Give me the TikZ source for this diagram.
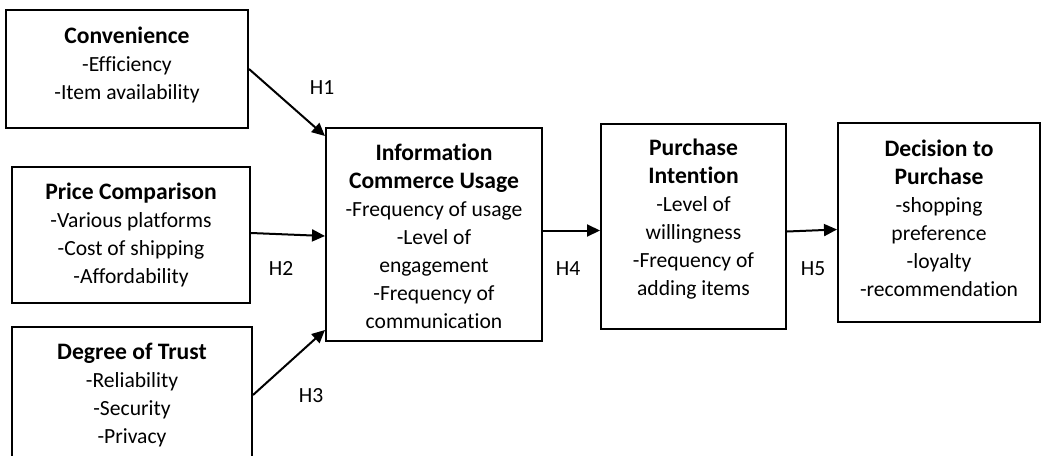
\documentclass[tikz,border=0pt]{standalone}
\usepackage{fontspec}
\setmainfont{Carlito}[Ligatures=NoCommon]
\usetikzlibrary{arrows.meta,calc}
\begin{document}
\begin{tikzpicture}[x=1pt,y=-1pt,
  box/.style={draw=black,line width=2pt,rectangle,inner sep=0pt},
  txt/.style={align=center,inner sep=0pt,font=\fontsize{21.6}{28}\selectfont},
  hlab/.style={inner sep=0pt,font=\fontsize{21.6}{26}\selectfont},
  arr/.style={line width=2pt,-{Triangle[length=13pt,width=12pt]}}]
\newcommand{\ttl}[1]{{\fontsize{23.6}{28}\selectfont\bfseries #1}}
\clip (0,0) rectangle (1043,455);
\fill[white] (0,0) rectangle (1043,455);
% boxes
\node[box,minimum width=242pt,minimum height=118pt] (conv) at (127,69) {};
\node[box,minimum width=238pt,minimum height=136pt] (price) at (131,235) {};
\node[box,minimum width=240pt,minimum height=136pt] (trust) at (132,395) {};
\node[box,minimum width=216pt,minimum height=213pt] (info) at (434,234.5) {};
\node[box,minimum width=185pt,minimum height=205pt] (pi) at (693.5,226.5) {};
\node[box,minimum width=202pt,minimum height=199pt] (dec) at (939,222.5) {};
% texts
\node[txt] (convt) at (127,65) {\ttl{Convenience}\\-Efficiency\\-Item availability};
\node[txt] (pricet) at (131,234.5) {\ttl{Price Comparison}\\-Various platforms\\-Cost of shipping\\-Affordability};
\node[txt] (trustt) at (132,395) {\ttl{Degree of Trust}\\-Reliability\\-Security\\-Privacy};
\node[txt] (infot) at (434,236.5) {\ttl{Information}\\\ttl{Commerce Usage}\\-Frequency of usage\\-Level of\\engagement\\-Frequency of\\communication};
\node[txt] (pit) at (693.5,219.5) {\ttl{Purchase}\\\ttl{Intention}\\-Level of\\willingness\\-Frequency of\\adding items};
\node[txt] (dect) at (939,218.5) {\ttl{Decision to}\\\ttl{Purchase}\\-shopping\\preference\\-loyalty\\-recommendation};
% connectors
\draw[arr] (conv.east) -- ([yshift=-9pt]info.north west);
\draw[arr] ([yshift=2pt]price.east) -- ([yshift=-1.5pt]info.west);
\draw[arr] (trust.east) -- ([yshift=12pt]info.south west);
\coordinate (h4s) at ([yshift=4pt]info.east);
\draw[arr] (h4s) -- (h4s -| pi.west);
\draw[arr] ([yshift=-5pt]pi.east) -- ([yshift=-7pt]dec.west);
% labels
\node[hlab] (h1) at (322,88) {H1};
\node[hlab] (h2) at (281,268) {H2};
\node[hlab] (h3) at (311,396) {H3};
\node[hlab] (h4) at (568,269) {H4};
\node[hlab] (h5) at (813,269) {H5};
\end{tikzpicture}
\end{document}
